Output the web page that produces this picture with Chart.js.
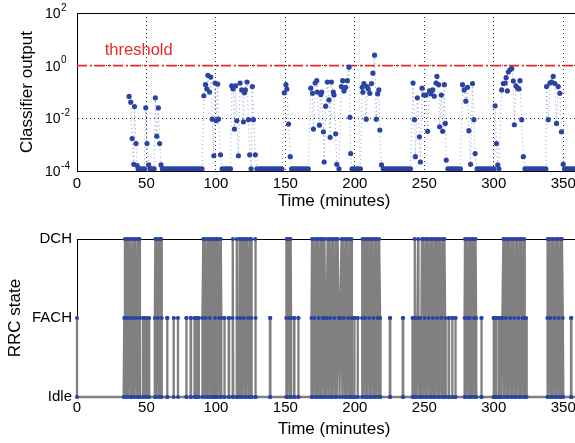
<!DOCTYPE html>
<html>
<head>
<meta charset="utf-8">
<script src="https://cdn.jsdelivr.net/npm/chart.js@4"></script>
<style>
html,body{margin:0;padding:0;background:#fff;overflow:hidden;}
#wrap{width:600px;}
canvas{display:block;}
</style>
</head>
<body>
<div id="wrap">
<canvas id="scoreChart" width="600" height="215"></canvas>
<canvas id="rrcChart" width="600" height="228"></canvas>
</div>
<script>
// axes
const timeTicks = [0,50,100,150,200,250,300,350];
const timeMax = 370;
const scoreTicks = [1e-4,1e-2,1e0,1e2];
const scoreExp = ["-4","-2","0","2"];
const stateNames = ["Idle","FACH","DCH"];

// threshold line + its label
const threshold = 1;
const thresholdText = "threshold";
const thresholdTextAt = [20, 3.9];

// classifier output, [minutes, value]
const scoreSamples = [
[37.5,0.068],[38.7,0.041],[39.7,0.0017],[40.9,0.00018],[41.4,0.028],[42.5,0.0011],[43.3,0.00016],
[49.5,0.025],[50.4,0.0011],[51.6,0.00017],
[56.4,0.060],[57.4,0.0021],[58.6,0.025],[59.5,0.0011],[60.5,0.00017],
[91.3,0.072],[92.5,0.19],[93.5,0.13],[94.2,0.43],[95.4,0.10],[96.3,0.37],[97.3,0.0093],[98.5,0.00038],[99.4,0.22],[100.2,0.0081],[101.3,0.20],[101.8,0.0093],[103.3,0.00041],
[111.4,0.17],[112.3,0.13],[113.3,0.0039],[114.2,0.17],[115,0.0081],[116.2,0.00038],[117.4,0.22],[118.6,0.12],[119.8,0.0074],[120.5,0.093],[121.2,0.12],[122.4,0.24],[123.4,0.0089],[124.3,0.00041],
[126.2,0.16],[127,0.0089],[128.4,0.00041],
[149.2,0.093],[150.4,0.19],[151.1,0.13],[152.3,0.0061],[153.5,0.00035],
[168.3,0.14],[169.5,0.089],[170.2,0.0039],[171.4,0.22],[172.6,0.27],[173,0.10],[174.5,0.0055],[175.5,0.079],[176.2,0.10],[177.4,0.0031],[177.9,0.00022],[179,0.029],[180.2,0.24],[181.4,0.050],[182.2,0.0019],[183.1,0.24],[184.5,0.10],[185,0.077],[186.2,0.0026],[187,0.00018],
[190.3,0.16],[191.2,0.27],[192.2,0.11],[193.4,0.15],[194.6,0.27],[195.8,0.88],[196.5,0.011],[197,0.00046],
[205.3,0.15],[205.8,0.098],[206.5,0.21],[208.2,0.0093],[208.9,0.16],[209.6,0.13],[210.8,0.089],[212,0.21],[213,0.52],[214.2,2.5],[215.4,0.0093],[216.4,0.085],[217.3,0.12],[218,0.0036],[219.2,0.00017],
[241.9,0.22],[242.9,0.0089],[243.6,0.00035],[245,0.060],[246.5,0.0020],[247.2,0.00022],[248.4,0.14],[249.6,0.077],[251.2,0.077],[252.4,0.0032],[253.7,0.11],[254.8,0.085],[256,0.12],[257.2,0.069],[258.4,0.22],[259.1,0.39],[260.3,0.19],[261,0.0048],[262.3,0.077],[263.2,0.0032],[264.4,0.19],[265.1,0.0064],[265.8,0.00026],
[277.5,0.19],[278.7,0.12],[279.9,0.045],[281.1,0.15],[282.1,0.0034],[283.3,0.00018],[284.7,0.21],[285.7,0.0089],[286.6,0.00046],
[301,0.030],[301.9,0.0011],[302.9,0.00017],
[305.7,0.12],[306.9,0.21],[308.2,0.22],[308.9,0.35],[309.8,0.11],[310.5,0.57],[311.7,0.70],[312.9,0.77],[314.1,0.26],[314.8,0.0057],[316,0.17],[317.2,0.14],[318.2,0.13],[318.9,0.27],[320.1,0.0089],[321.3,0.00035],
[338,0.16],[339.2,0.0089],[340.4,0.22],[341.6,0.24],[342.8,0.39],[344,0.21],[345.2,0.0064],[346.4,0.16],[347.6,0.089],[348.7,0.0031],[350,0.00018]
];

// samples sitting on the floor of the plot
const floorValue = 1.2e-4;
const floorTime = [
44,45.5,47,48.5, 52.5,54,55.5,
61.5,63,64.5,66,67.5,69,70.5,72,73.5,75,76.5,78,79.5,81,82.5,84,85.5,87,88.5,90,
104.5,106,107.5,109,110.5, 125.3,
129.5,131,132.5,134,135.5,137,138.5,140,141.5,143,144.5,146,147.5,
154.5,156,157.5,159,160.5,162,163.5,165,166.5, 188.6,
198,199.5,201,202.5,204,
220.5,222,223.5,225,226.5,228,229.5,231,232.5,234,235.5,237,238.5,240,
267,268.5,270,271.5,273,274.5,276,
288,289.5,291,292.5,294,295.5,297,298.5,300, 303.7,
322.5,324,325.5,327,328.5,330,331.5,333,334.5,336,337.5,
351,352.5,354,355.5,357,358.5,360
];

// RRC state, [minutes, state index]
const rrcSamples = [
[0,1],[0,0],[33.6,0],
[34,1],[34.5,2],[35.2,0],[35.7,1],[36.1,2],[36.7,0],[37.3,2],[37.9,1],[38.5,0],[39.1,2],[39.7,0],[40.3,1],[40.9,2],[41.5,0],[42.1,2],[42.7,1],[43.3,0],[43.9,2],[44.5,0],[45,2],[45.3,1],[45.4,0],
[47.5,0],[47.5,1],[49,1],[49,0],[50.5,0],[50.5,1],[52,1],[52,0],
[56,0],[56,1],[56.4,2],[57,0],[57.6,2],[58.2,1],[58.8,0],[59.4,2],[60,0],[60.6,2],[61,1],[61,0],
[64.8,0],[64.8,1],[65.1,1],[65.1,0],
[69.6,0],[69.6,1],[72.7,1],[72.7,0],
[78.6,0],[78.6,1],[78.9,1],[78.9,0],
[81.8,0],[81.8,1],[82.1,1],[82.1,0],
[84.6,0],[84.6,1],[85.6,1],[85.6,0],[86.6,0],[86.6,1],[87.7,1],[87.7,0],
[90.3,0],[90.3,1],[90.9,2],[91.5,0],[92.1,2],[92.7,1],[93.3,0],[93.9,2],[94.5,0],[95.1,2],[95.7,1],[96.3,0],[96.9,2],[97.5,0],[98.1,2],[98.7,0],[99.2,2],[99.4,1],[99.4,0],
[100.5,0],[100.5,2],[101.1,0],[101.7,2],[102.3,1],[102.9,0],[103.5,2],[103.9,1],[103.9,0],
[106,0],[106,1],[106.3,1],[106.3,0],[109.2,0],[109.2,1],[109.5,1],[109.5,0],
[112,0],[112,1],[112.2,2],[112.5,0],[115,0],[115,2],[115.3,1],[115.4,0],[117,0],[117,2],[117.4,1],[117.7,0],
[118.3,2],[118.9,0],[119.5,2],[120.1,1],[120.7,0],[121.3,2],[121.9,0],[122.5,2],[123.1,1],[123.7,0],[124.3,2],[124.9,0],[125.3,2],[125.6,1],[125.8,0],
[128.3,0],[128.3,2],[128.6,1],[128.7,0],
[138.9,0],[138.9,1],[139.2,1],[139.2,0],
[150.6,0],[150.6,1],[150.9,2],[151.5,0],[152.1,2],[152.7,1],[153.3,0],[153.8,2],[154.1,1],[154.1,0],
[156.2,0],[156.2,1],[156.5,1],[156.5,0],[159.2,0],[159.2,1],[159.5,1],[159.5,0],
[168.8,0],[168.8,1],[169.2,2],[169.8,0],[170.4,2],[171,1],[171.6,0],[172.2,2],[172.8,0],[173.4,2],[174,1],[174.6,0],[175.2,2],[175.8,0],[176.4,2],[177,1],[177.6,0],[178.1,2],[178.6,1],[179.2,0],[179.8,1],
[180.4,2],[181,0],[181.6,2],[182.2,1],[182.8,0],[183.4,2],[184,0],[184.6,2],[185.2,1],[185.8,0],[186.4,2],[187,0],[187.6,2],[188.4,1],[189,0],[189.6,1],
[190.4,2],[191,0],[191.6,2],[192.2,1],[192.8,0],[193.4,2],[194,0],[194.6,2],[195.2,1],[195.8,0],[196.4,2],[197,0],[197.6,2],[197.9,1],[198,0],
[199.5,0],[199.5,1],[199.8,1],[199.8,0],[201.9,0],[201.9,1],[202.2,1],[202.2,0],
[205.2,0],[205.2,1],[205.5,2],[206.1,0],[206.7,2],[207.3,1],[207.9,0],[208.5,2],[209.1,0],[209.7,2],[210.3,1],[210.9,0],[211.5,2],[212.1,0],[212.7,2],[213.3,1],[213.9,0],[214.5,2],[215.1,0],[215.7,2],[216.3,1],[216.9,0],[217.5,2],[218.2,1],[218.5,0],
[225.2,0],[225.2,1],[225.5,1],[225.5,0],[234.5,0],[234.5,1],[234.8,1],[234.8,0],
[241.5,0],[241.5,1],[242.1,0],[242.6,1],[243,2],[243.3,0],[244,1],[244.5,0],[245.5,2],[245.8,1],[246.4,0],[247,1],[247.6,0],
[248.3,2],[248.9,0],[249.5,2],[250.1,1],[250.7,0],[251.3,2],[251.9,0],[252.5,2],[253.1,1],[253.7,0],[254.3,2],[254.9,0],[255.5,2],[256.1,1],[256.7,0],[257.3,2],[257.9,0],[258.5,2],[259.1,1],[259.7,0],[260.3,2],[260.9,0],[261.5,2],[262.1,1],[262.7,0],[263.3,2],[263.9,0],[264.5,2],[265,1],[265.4,0],
[267.5,0],[267.5,1],[267.8,1],[267.8,0],[270,0],[270,1],[270.3,1],[270.3,0],[272.3,0],[272.3,1],[272.6,1],[272.6,0],
[279,0],[279,1],[279.3,2],[279.9,0],[280.5,2],[281.1,1],[281.7,0],[282.3,2],[282.9,1],[283.3,0],[283.9,2],[284.5,0],[285.1,2],[285.7,1],[286.3,0],[286.9,2],[287.3,1],[287.4,0],
[291,0],[291,1],[291.3,1],[291.3,0],
[299.8,0],[299.8,1],[300.1,1],[300.1,0],[301.4,0],[301.4,1],[301.7,1],[301.7,0],[303.4,0],[303.4,1],[303.7,1],[303.7,0],
[305,0],[305,1],[305.6,0],[306.2,1],[306.9,2],[307.5,0],[308.1,2],[308.7,1],[309.3,0],[309.9,2],[310.5,0],[311.1,2],[311.7,1],[312.3,0],[312.9,2],[313.5,0],[314.1,2],[314.7,1],[315.3,0],[315.9,2],[316.5,0],[317.1,2],[317.7,1],[318.3,0],[318.9,2],[319.5,0],[320.1,2],[320.7,1],[321.3,0],[321.9,2],[322.3,1],[322.7,0],[323.3,1],[323.7,0],
[338.6,0],[338.6,1],[338.9,2],[339.5,0],[340.1,2],[340.7,1],[341.3,0],[341.9,2],[342.5,0],[343.1,2],[343.7,1],[344.3,0],[344.9,2],[345.5,0],[346.1,2],[346.7,1],[347.3,0],[347.9,2],[348.5,0],[349.1,2],[349.7,1],[350.1,0],
[355.6,0],[355.6,1],[355.9,1],[355.9,0],[370,0]
];

const FONT = "'Liberation Sans', Arial, Helvetica, sans-serif";
const BLUE = "#2b44a4";
const GRAY = "#808080";
const RED = "#e8292a";

Chart.defaults.font.family = FONT;
Chart.defaults.color = "#000";
Chart.defaults.animation = false;

const scorePoints = scoreSamples
  .concat(floorTime.map(t => [t, floorValue]))
  .sort((a, b) => a[0] - b[0])
  .map(([t, v]) => ({x: t, y: v}));

// black line along the top of the plot box
function topEdge(chart){
  const {ctx, chartArea: a} = chart;
  ctx.save();
  ctx.strokeStyle = "#000";
  ctx.lineWidth = 1;
  ctx.beginPath();
  ctx.moveTo(a.left, a.top + 0.5);
  ctx.lineTo(a.right, a.top + 0.5);
  ctx.stroke();
  ctx.restore();
}

const scoreDecor = {
  id: "scoreDecor",
  beforeDatasetsDraw(chart){ topEdge(chart); },
  afterDraw(chart){
    const {ctx} = chart;
    const x = chart.scales.x, y = chart.scales.y;
    ctx.save();
    ctx.fillStyle = "#000";
    ctx.textBaseline = "middle";
    ctx.textAlign = "left";
    scoreTicks.forEach((v, i) => {
      const py = y.getPixelForValue(v);
      ctx.font = "14px " + FONT;
      ctx.fillText("10", 45, py + 1);
      const w = ctx.measureText("10").width;
      ctx.font = "10px " + FONT;
      ctx.fillText(scoreExp[i], 45 + w + 0.5, py - 5);
    });
    ctx.fillStyle = RED;
    ctx.font = "16.5px " + FONT;
    ctx.fillText(thresholdText, x.getPixelForValue(thresholdTextAt[0]), y.getPixelForValue(thresholdTextAt[1]));
    ctx.restore();
  }
};

const rrcDecor = {
  id: "rrcDecor",
  beforeDatasetsDraw(chart){ topEdge(chart); }
};

function timeAxis(height, tickPad, titlePad, withGrid){
  return {
    type: "linear", min: 0, max: timeMax,
    afterBuildTicks: ax => { ax.ticks = timeTicks.map(v => ({value: v})); },
    afterFit: ax => { ax.height = height; },
    grid: {display: withGrid, color: "#333", lineWidth: 1, drawTicks: false},
    border: {display: true, color: "#000", width: 1, dash: [1,3]},
    ticks: {padding: tickPad, font: {size: 15}, maxRotation: 0, autoSkip: false},
    title: {display: true, text: "Time (minutes)", font: {size: 17}, padding: {top: 0, bottom: titlePad}}
  };
}

new Chart(document.getElementById("scoreChart"), {
  type: "line",
  data: {
    datasets: [
      {
        data: scorePoints,
        borderColor: "rgba(43,68,164,0.5)",
        borderWidth: 1,
        borderDash: [1,3],
        pointRadius: 2.6,
        pointBorderWidth: 0,
        pointBackgroundColor: BLUE
      },
      {
        data: [{x: 0, y: threshold}, {x: timeMax, y: threshold}],
        borderColor: RED,
        borderWidth: 1.6,
        borderDash: [10,3,2,3],
        pointRadius: 0
      }
    ]
  },
  options: {
    responsive: false,
    devicePixelRatio: 1,
    layout: {padding: {top: 13, right: 9, left: 0, bottom: 0}},
    plugins: {legend: {display: false}, tooltip: {enabled: false}},
    scales: {
      x: timeAxis(44, 4, 3, true),
      y: {
        type: "logarithmic", min: 1e-4, max: 1e2,
        afterBuildTicks: ax => { ax.ticks = scoreTicks.map(v => ({value: v})); },
        afterFit: ax => { ax.width = 77; },
        grid: {color: "#333", lineWidth: 1, drawTicks: false},
        border: {display: true, color: "#000", width: 1, dash: [1,3]},
        ticks: {display: false},
        title: {display: true, text: "Classifier output", font: {size: 17}, padding: {top: 17, bottom: 0}}
      }
    }
  },
  plugins: [scoreDecor]
});

new Chart(document.getElementById("rrcChart"), {
  type: "line",
  data: {
    datasets: [{
      data: rrcSamples.map(([t, s]) => ({x: t, y: s})),
      borderColor: GRAY,
      borderWidth: 2.3,
      pointRadius: 2,
      pointBorderWidth: 0,
      pointBackgroundColor: BLUE,
      clip: false
    }]
  },
  options: {
    responsive: false,
    devicePixelRatio: 1,
    layout: {padding: {top: 24, right: 9, left: 0, bottom: 0}},
    plugins: {legend: {display: false}, tooltip: {enabled: false}},
    scales: {
      x: timeAxis(46, 2, 3, false),
      y: {
        type: "linear", min: 0, max: 2,
        afterBuildTicks: ax => { ax.ticks = stateNames.map((n, i) => ({value: i})); },
        afterFit: ax => { ax.width = 77; },
        grid: {display: false, drawTicks: false},
        border: {display: true, color: "#000", width: 1},
        ticks: {padding: 5, font: {size: 15}, callback: v => stateNames[v]},
        title: {display: true, text: "RRC state", font: {size: 17}, padding: {top: 5, bottom: 0}}
      }
    }
  },
  plugins: [rrcDecor]
});
</script>
</body>
</html>
